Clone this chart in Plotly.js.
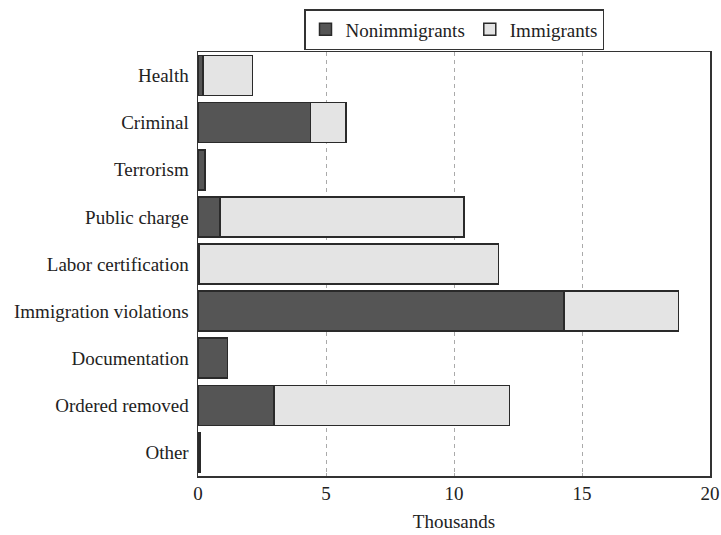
<!DOCTYPE html>
<html>
<head>
<meta charset="utf-8">
<script src="https://cdn.plot.ly/plotly-3.0.1.min.js"></script>
<style>html,body{margin:0;padding:0;background:#fff;}</style>
</head>
<body>
<div id="chart" style="width:721px;height:535px;"></div>
<script>
const categories = ["Health", "Criminal", "Terrorism", "Public charge", "Labor certification", "Immigration violations", "Documentation", "Ordered removed", "Other"];
const nonimmigrants = [0.2, 4.4, 0.27, 0.86, 0.05, 14.3, 1.16, 2.97, 0.08];
const immigrants = [1.93, 1.38, 0, 9.53, 11.68, 4.46, 0, 9.19, 0];
const xTicks = [0, 5, 10, 15, 20];

const font = {family: "Liberation Serif, Times New Roman, serif", color: "#222", size: 19};
const traces = [
  {type: "bar", orientation: "h", name: "Nonimmigrants", y: categories, x: nonimmigrants,
   marker: {color: "#555555", line: {color: "#2a2a2a", width: 1.5}}},
  {type: "bar", orientation: "h", name: "Immigrants", y: categories, x: immigrants,
   marker: {color: "#e4e4e4", line: {color: "#2a2a2a", width: 1.5}}}
];
const layout = {
  width: 721, height: 535,
  margin: {l: 198, r: 11, t: 52, b: 59, autoexpand: false},
  barmode: "stack", bargap: 0.15,
  paper_bgcolor: "#fff", plot_bgcolor: "#fff",
  font: font,
  showlegend: true,
  legend: {orientation: "h", x: 0.5, xanchor: "center",
    yref: "container", y: 1 - 9 / 535, yanchor: "top",
    bordercolor: "#333", borderwidth: 1.5, font: font, traceorder: "normal",
    itemwidth: 30, tracegroupgap: 0},
  xaxis: {range: [0, 20], tickvals: xTicks, ticktext: xTicks.map(String),
    showgrid: true, gridcolor: "#aaaaaa", griddash: "4px,4px", gridwidth: 1,
    zeroline: false, showline: true, linecolor: "#333", linewidth: 1.5, mirror: true,
    ticks: "inside", ticklen: 3, tickcolor: "#aaa",
    title: {text: "Thousands", font: font, standoff: 11}, tickfont: font},
  yaxis: {type: "category", autorange: "reversed", showgrid: false, zeroline: false,
    showline: true, linecolor: "#333", linewidth: 1.5, mirror: true,
    ticks: "", tickfont: font, ticklabelstandoff: 4}
};
Plotly.newPlot("chart", traces, layout, {displayModeBar: false, staticPlot: true});
</script>
</body>
</html>
